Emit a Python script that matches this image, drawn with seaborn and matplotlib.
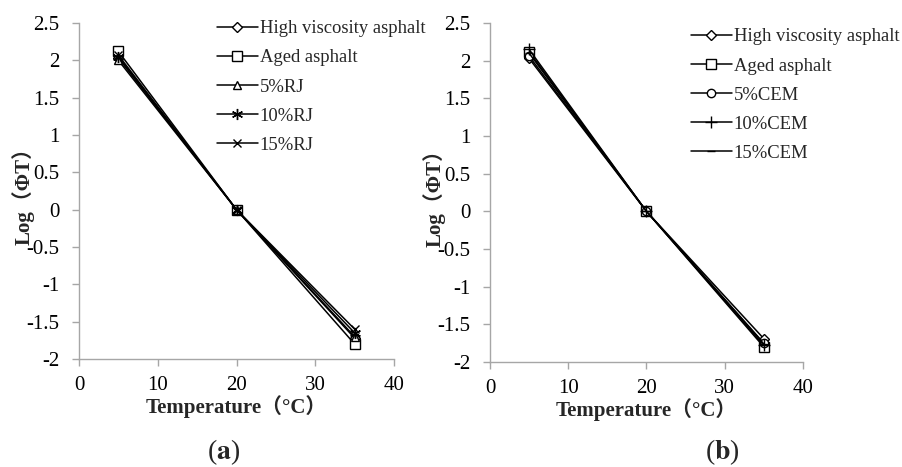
import matplotlib
matplotlib.use("Agg")
import matplotlib.pyplot as plt
import seaborn as sns
import pandas as pd

temperature = [5, 20, 35]

labels_a = ["High viscosity asphalt", "Aged asphalt", "5%RJ", "10%RJ", "15%RJ"]
values_a = [
    [2.03, 0.0, -1.72],
    [2.12, 0.0, -1.80],
    [2.00, 0.0, -1.70],
    [2.05, 0.0, -1.65],
    [2.07, 0.0, -1.60],
]
markers_a = ["D", "s", "^", (6, 2, 0), "x"]

labels_b = ["High viscosity asphalt", "Aged asphalt", "5%CEM", "10%CEM", "15%CEM"]
values_b = [
    [2.03, 0.0, -1.69],
    [2.12, 0.0, -1.80],
    [2.06, 0.0, -1.75],
    [2.15, 0.0, -1.78],
    [2.10, 0.0, -1.76],
]
markers_b = ["D", "s", "o", "+", "_"]

sns.set_theme(style="white")
plt.rcParams["font.family"] = ["Liberation Serif", "Noto Sans CJK SC", "DejaVu Sans"]
plt.rcParams["mathtext.fontset"] = "stix"

fig = plt.figure(figsize=(9.02, 4.67), dpi=100)
ax_a = fig.add_axes([0.0876, 0.2313, 0.3492, 0.7194])
ax_b = fig.add_axes([0.5432, 0.2248, 0.3470, 0.7259])

marker_sizes = {"D": 5, "s": 7, "^": 6, "o": 6, "x": 6, "+": 8, "_": 6}


def draw(ax, labels, values, markers, legend_anchor):
    for label, vals, mk in zip(labels, values, markers):
        df = pd.DataFrame({"T": temperature, "v": vals})
        ms = marker_sizes.get(mk, 8) if isinstance(mk, str) else 8
        sns.lineplot(data=df, x="T", y="v", ax=ax, color="black", linewidth=1.1,
                     marker=mk, markersize=ms, markerfacecolor="white",
                     markeredgecolor="black", markeredgewidth=1.0, label=label)
    ax.set_xlim(0, 40)
    ax.set_ylim(-2, 2.5)
    ax.set_xticks([0, 10, 20, 30, 40])
    ax.set_yticks([-2, -1.5, -1, -0.5, 0, 0.5, 1, 1.5, 2, 2.5])
    ax.set_yticklabels(["-2", "-1.5", "-1", "-0.5", "0", "0.5", "1", "1.5", "2", "2.5"])
    for side in ("top", "right"):
        ax.spines[side].set_visible(False)
    for side in ("left", "bottom"):
        ax.spines[side].set_color("#a6a6a6")
        ax.spines[side].set_linewidth(1.0)
    ax.tick_params(axis="both", which="major", direction="out", length=5,
                   width=1.0, color="#a6a6a6", labelsize=15, labelcolor="black",
                   left=True, bottom=True)
    ax.tick_params(axis="y", pad=9)
    ax.tick_params(axis="x", pad=7)
    ax.set_xlabel("Temperature（°C）", fontsize=15, fontweight="bold", labelpad=0)
    ax.set_ylabel("Log（ΦT）", fontsize=15, fontweight="bold", labelpad=-6)
    leg = ax.legend(loc="upper left", bbox_to_anchor=legend_anchor, frameon=False,
                    fontsize=13.4, handlelength=2.2, handletextpad=0.1,
                    labelspacing=0.65, borderaxespad=0, borderpad=0)
    return leg


draw(ax_a, labels_a, values_a, markers_a, (0.438, 1.008))
draw(ax_b, labels_b, values_b, markers_b, (0.642, 0.984))

fig.text(0.2484, 0.032, r"($\mathbf{a}$)", ha="center", va="center", fontsize=20)
fig.text(0.8004, 0.032, r"($\mathbf{b}$)", ha="center", va="center", fontsize=20)

fig.savefig("out.png", dpi=100, facecolor="white")
